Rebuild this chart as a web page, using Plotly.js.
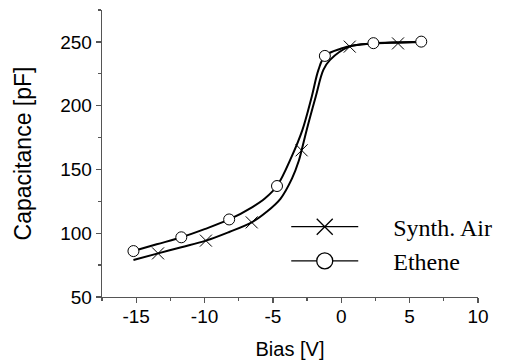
<!DOCTYPE html>
<html>
<head>
<meta charset="utf-8">
<script src="https://cdn.plot.ly/plotly-3.0.1.min.js"></script>
<style>html,body{margin:0;padding:0;background:#fff;}#chart{width:507px;height:363px;}</style>
</head>
<body>
<div id="chart"></div>
<script>
// Ethene: fitted curve
var etheneCurveX = [-15.2, -13.5, -11.7, -10.0, -8.2, -6.5, -5.57, -4.7, -3.63, -2.84, -2.16, -1.67, -1.2, 0.0, 1.0, 2.35, 4.0, 5.85];
var etheneCurveY = [86, 91.3, 96.8, 103.2, 110.8, 120.5, 127.4, 137, 160, 181, 207, 228, 239, 244.8, 247.3, 249, 249.7, 250.2];
// Ethene: measured points (circles)
var etheneX = [-15.2, -11.7, -8.2, -4.7, -1.2, 2.35, 5.85];
var etheneY = [86, 96.8, 110.8, 137, 239, 249, 250.2];

// Synth. Air: fitted curve
var airCurveX = [-15.2, -13.4, -11.7, -9.9, -8.2, -6.55, -5.5, -4.45, -3.6, -3.1, -2.9, -2.53, -1.87, -1.31, -0.82, 0.6, 2.35, 4.15, 5.85];
var airCurveY = [79, 84.2, 89, 94.2, 101, 108.5, 116.4, 127, 143, 157, 165, 181, 207, 228, 235.9, 246.3, 248.6, 249.4, 250];
// Synth. Air: measured points (crosses)
var airX = [-13.4, -9.9, -6.55, -2.9, 0.62, 4.15];
var airY = [84.2, 94.2, 108.5, 165, 246.3, 248.8];

var seriesNames = ['Synth. Air', 'Ethene'];
var xTickVals = [-15, -10, -5, 0, 5, 10];
var xTickText = ['-15', '-10', '-5', '0', '5', '10'];
var yTickVals = [50, 100, 150, 200, 250];
var yTickText = ['50', '100', '150', '200', '250'];
var xTitle = 'Bias [V]';
var yTitle = 'Capacitance [pF]';

var black = '#000000';
var pad = '\u00a0\u00a0\u00a0\u00a0\u00a0';
var traces = [
  {x: airCurveX, y: airCurveY, mode: 'lines', line: {color: black, width: 2, shape: 'spline', smoothing: 1}, showlegend: false, hoverinfo: 'skip'},
  {x: etheneCurveX, y: etheneCurveY, mode: 'lines', line: {color: black, width: 2, shape: 'spline', smoothing: 1}, showlegend: false, hoverinfo: 'skip'},
  {x: airX, y: airY, mode: 'markers', marker: {symbol: 'x-thin-open', size: 12, color: black, line: {color: black, width: 1}}, showlegend: false},
  {x: etheneX, y: etheneY, mode: 'markers', marker: {symbol: 'circle', size: 11, color: '#ffffff', line: {color: black, width: 1}}, showlegend: false},
  // legend entries
  {x: [null], y: [null], name: pad + seriesNames[0], mode: 'lines+markers', line: {color: black, width: 1.3}, marker: {symbol: 'x-thin-open', size: 16, color: black, line: {color: black, width: 1.3}}},
  {x: [null], y: [null], name: pad + seriesNames[1], mode: 'lines+markers', line: {color: black, width: 1.3}, marker: {symbol: 'circle', size: 16, color: '#ffffff', line: {color: black, width: 1.3}}}
];

var axisCol = '#555555';
var layout = {
  width: 507, height: 363,
  margin: {l: 102, r: 29, t: 10, b: 66, pad: 0},
  paper_bgcolor: '#ffffff', plot_bgcolor: '#ffffff',
  showlegend: true,
  legend: {x: 0.49, y: 0.322, xanchor: 'left', yanchor: 'top', bgcolor: 'rgba(0,0,0,0)', borderwidth: 0,
           font: {family: 'Liberation Serif, Times New Roman, serif', size: 24, color: black}, itemwidth: 67},
  xaxis: {
    range: [-17.5, 10], tickmode: 'array', tickvals: xTickVals, ticktext: xTickText,
    showgrid: false, zeroline: false,
    showline: true, linecolor: axisCol, linewidth: 1.3, mirror: false,
    ticks: 'outside', ticklen: 5, tickwidth: 1.3, tickcolor: axisCol, ticklabelstandoff: -3,
    minor: {dtick: 2.5, tick0: 0, ticks: 'outside', ticklen: 3, tickwidth: 1.3, tickcolor: axisCol, showgrid: false},
    tickfont: {family: 'Liberation Sans, Arial, sans-serif', size: 19, color: black},
    title: {text: xTitle, font: {family: 'Liberation Sans, Arial, sans-serif', size: 20, color: black}, standoff: 16}
  },
  yaxis: {
    range: [50, 275], tickmode: 'array', tickvals: yTickVals, ticktext: yTickText,
    showgrid: false, zeroline: false,
    showline: true, linecolor: axisCol, linewidth: 1.3, mirror: false,
    ticks: 'outside', ticklen: 5, tickwidth: 1.3, tickcolor: axisCol,
    minor: {dtick: 25, tick0: 0, ticks: 'outside', ticklen: 3, tickwidth: 1.3, tickcolor: axisCol, showgrid: false},
    tickfont: {family: 'Liberation Sans, Arial, sans-serif', size: 19, color: black},
    title: {text: yTitle, font: {family: 'Liberation Sans, Arial, sans-serif', size: 23, color: black}, standoff: 22}
  }
};

Plotly.newPlot('chart', traces, layout, {staticPlot: true, displayModeBar: false});
</script>
</body>
</html>
